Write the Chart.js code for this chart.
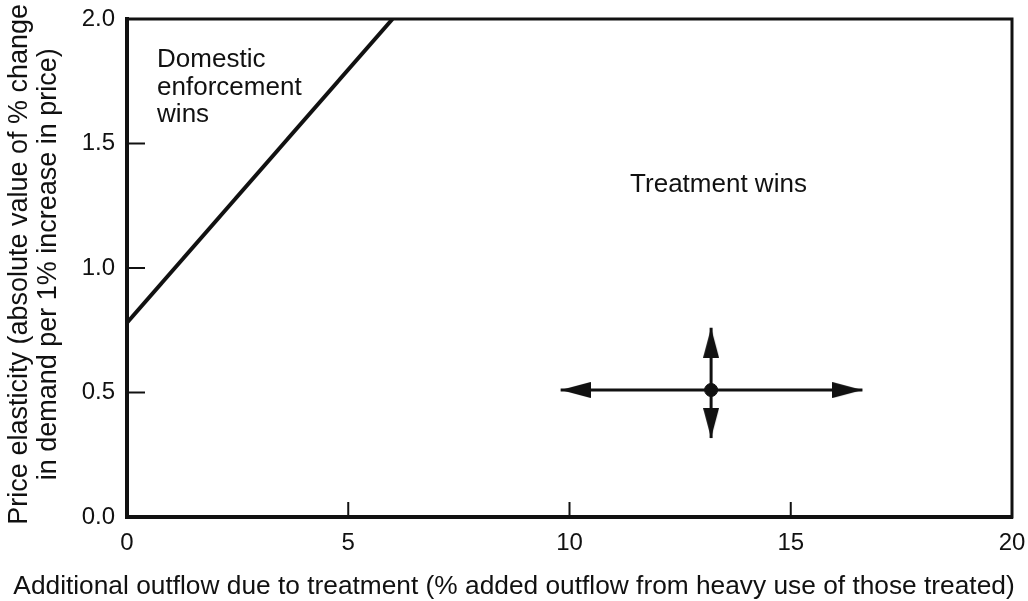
<!DOCTYPE html>
<html>
<head>
<meta charset="utf-8">
<script src="https://cdn.jsdelivr.net/npm/chart.js@4/dist/chart.umd.min.js"></script>
<style>
  html, body { margin: 0; padding: 0; background: #fff; }
  #wrap { width: 1028px; height: 601px; position: relative; }
</style>
</head>
<body>
<div id="wrap"><canvas id="c"></canvas></div>
<script>
// ---- data ----
const xTickValues = [0, 5, 10, 15, 20];
const yTickValues = [0.0, 0.5, 1.0, 1.5, 2.0];
const boundaryX = [0, 6.0];
const boundaryY = [0.78, 2.0];
const crossCenter = [13.2, 0.51];
const crossHorizX = [9.8, 16.62];
const crossVertY = [0.317, 0.76];
const regionLabels = [
  { x: 0.68, y: 1.807, lines: ["Domestic", "enforcement", "wins"] },
  { x: 11.37, y: 1.305, lines: ["Treatment wins"] }
];
const xTitle = "Additional outflow due to treatment (% added outflow from heavy use of those treated)";
const yTitle = [" Price elasticity (absolute value of % change", " in demand per 1% increase in price)"];

const FONT = "'Liberation Sans', Arial, Helvetica, sans-serif";
const INK = "#111";

// arrowhead image (points right, tip at canvas centre)
function makeHead() {
  const c = document.createElement('canvas');
  c.width = 60; c.height = 16;
  const g = c.getContext('2d');
  g.fillStyle = INK;
  g.beginPath();
  g.moveTo(0, 0); g.lineTo(30, 8); g.lineTo(0, 16); g.closePath();
  g.fill();
  return c;
}
const head = makeHead();

const bgPlugin = {
  id: 'bg',
  beforeDraw(chart) {
    const ctx = chart.ctx;
    ctx.save();
    ctx.fillStyle = '#fff';
    ctx.fillRect(0, 0, chart.width, chart.height);
    ctx.restore();
  }
};

const framePlugin = {
  id: 'frame',
  afterDraw(chart) {
    const {ctx, chartArea: a, scales} = chart;
    ctx.save();
    ctx.strokeStyle = INK;
    ctx.lineWidth = 3;
    ctx.strokeRect(a.left, a.top, a.right - a.left, a.bottom - a.top);
    // inward tick marks
    ctx.lineWidth = 2;
    scales.x.ticks.forEach(t => {
      if (t.value === scales.x.min || t.value === scales.x.max) return;
      const px = scales.x.getPixelForValue(t.value);
      ctx.beginPath(); ctx.moveTo(px, a.bottom); ctx.lineTo(px, a.bottom - 15); ctx.stroke();
    });
    scales.y.ticks.forEach(t => {
      if (t.value === scales.y.min || t.value === scales.y.max) return;
      const py = scales.y.getPixelForValue(t.value);
      ctx.beginPath(); ctx.moveTo(a.left, py); ctx.lineTo(a.left + 18, py); ctx.stroke();
    });
    // region labels
    ctx.fillStyle = INK;
    ctx.font = "26px " + FONT;
    ctx.textBaseline = 'alphabetic';
    ctx.textAlign = 'left';
    regionLabels.forEach(l => {
      const px = scales.x.getPixelForValue(l.x);
      const py = scales.y.getPixelForValue(l.y);
      l.lines.forEach((s, i) => ctx.fillText(s, px, py + i * 27.5));
    });
    ctx.restore();
  }
};

function zeroPad(s) { s.paddingTop = 0; s.paddingBottom = 0; s.paddingLeft = 0; s.paddingRight = 0; }

new Chart(document.getElementById('c'), {
  type: 'scatter',
  data: {
    datasets: [
      {
        type: 'line',
        data: boundaryX.map((x, i) => ({x, y: boundaryY[i]})),
        borderColor: INK, borderWidth: 4, pointRadius: 0, fill: false
      },
      {
        type: 'line',
        data: crossHorizX.map(x => ({x, y: crossCenter[1]})),
        borderColor: INK, borderWidth: 3,
        pointStyle: head, pointRotation: [180, 0], pointRadius: 10, clip: false
      },
      {
        type: 'line',
        data: crossVertY.map(y => ({x: crossCenter[0], y})),
        borderColor: INK, borderWidth: 3,
        pointStyle: head, pointRotation: [90, -90], pointRadius: 10, clip: false
      },
      {
        type: 'scatter',
        data: [{x: crossCenter[0], y: crossCenter[1]}],
        backgroundColor: INK, borderColor: INK, pointRadius: 6.5, pointStyle: 'circle'
      }
    ]
  },
  options: {
    responsive: true,
    maintainAspectRatio: false,
    animation: false,
    events: [],
    layout: { padding: { top: 19, right: 0, left: 0, bottom: 0 } },
    plugins: {
      legend: { display: false },
      tooltip: { enabled: false },
      title: {
        display: true, position: 'bottom', text: xTitle, color: INK,
        font: { family: FONT, size: 26.3, weight: 'normal', lineHeight: 1.0 },
        padding: { top: 0, bottom: 1 }
      }
    },
    scales: {
      x: {
        type: 'linear', min: 0, max: 20,
        afterBuildTicks(s) { s.ticks = xTickValues.map(v => ({value: v})); },
        afterFit(s) { s.height = 56.7; zeroPad(s); s.paddingRight = 16; },
        grid: { drawOnChartArea: false, drawTicks: false },
        border: { color: INK, width: 4 },
        ticks: { color: INK, font: { family: FONT, size: 24 }, padding: 12, maxRotation: 0,
                 callback: v => String(v) }
      },
      y: {
        type: 'linear', min: 0, max: 2,
        afterBuildTicks(s) { s.ticks = yTickValues.map(v => ({value: v})); },
        afterFit(s) { s.width = 127; zeroPad(s); },
        grid: { drawOnChartArea: false, drawTicks: false },
        border: { color: INK, width: 4 },
        ticks: { color: INK, font: { family: FONT, size: 24 }, padding: 12,
                 callback: v => Number(v).toFixed(1) },
        title: { display: true, text: yTitle, color: INK,
                 font: { family: FONT, size: 27, lineHeight: 1.074 }, padding: { top: 5, bottom: 0 } }
      }
    }
  },
  plugins: [bgPlugin, framePlugin]
});
</script>
</body>
</html>
